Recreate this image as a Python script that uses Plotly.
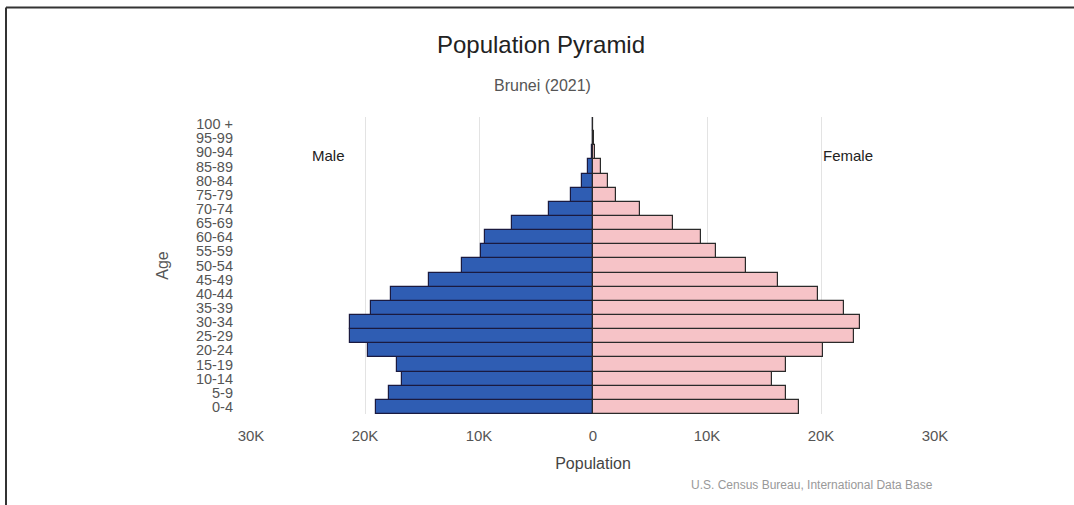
import plotly.graph_objects as go

age_groups = ["0-4", "5-9", "10-14", "15-19", "20-24", "25-29", "30-34", "35-39",
              "40-44", "45-49", "50-54", "55-59", "60-64", "65-69", "70-74",
              "75-79", "80-84", "85-89", "90-94", "95-99", "100 +"]
male = [19000, 17900, 16750, 17200, 19700, 21300, 21300, 19500, 17700, 14400,
        11500, 9800, 9500, 7100, 3900, 1950, 1000, 420, 120, 30, 5]
female = [18100, 16900, 15700, 16900, 20200, 22900, 23400, 22000, 19700, 16200,
          13400, 10800, 9500, 7000, 4150, 2000, 1300, 700, 200, 50, 10]
tick_vals = [-30000, -20000, -10000, 0, 10000, 20000, 30000]
tick_text = ["30K", "20K", "10K", "0", "10K", "20K", "30K"]

FONT = "Liberation Sans, Arial, sans-serif"

fig = go.Figure()
fig.add_trace(go.Bar(
    y=age_groups, x=[-v for v in male], orientation="h", name="Male",
    marker=dict(color="#2f5db3", line=dict(color="#1a1a40", width=1.2)),
    hoverinfo="skip",
))
fig.add_trace(go.Bar(
    y=age_groups, x=female, orientation="h", name="Female",
    marker=dict(color="#f6c3c7", line=dict(color="#2a2a2a", width=1.2)),
    hoverinfo="skip",
))

L, R, T, B = 251, 139, 117, 91
W, H = 1074, 505
pw, ph = W - L - R, H - T - B

def px(x):
    return (x - L) / pw

def py(y):
    return (H - B - y) / ph

fig.update_layout(
    width=W, height=H,
    margin=dict(l=L, r=R, t=T, b=B, pad=0),
    paper_bgcolor="white", plot_bgcolor="white",
    barmode="relative", bargap=0,
    showlegend=False,
    font=dict(family=FONT, color="#555555"),
    title=dict(text="Population Pyramid", x=541 / W, xanchor="center",
               y=1 - 45 / H, yanchor="middle", xref="container",
               font=dict(size=24, color="#222222", family=FONT)),
    xaxis=dict(
        range=[-30000, 30000], tickvals=tick_vals, ticktext=tick_text,
        showgrid=True, gridcolor="#e3e3e3", gridwidth=1, zeroline=False,
        tickfont=dict(size=15, color="#555555"), ticklabelstandoff=11,
        title=dict(text="Population", font=dict(size=16, color="#444444"), standoff=14),
        fixedrange=True,
    ),
    yaxis=dict(
        showgrid=False, zeroline=False,
        tickmode="array", tickvals=age_groups, ticktext=age_groups,
        tickfont=dict(size=14.5, color="#555555"), ticklabelstandoff=17,
        title=dict(text="Age", font=dict(size=16, color="#555555"), standoff=23),
        fixedrange=True,
    ),
    annotations=[
        dict(text="Brunei (2021)", xref="paper", yref="paper", x=px(542), y=py(86),
             xanchor="center", yanchor="middle", showarrow=False,
             font=dict(size=16, color="#555555", family=FONT)),
        dict(text="Male", xref="x", yref="paper", x=-23200, y=py(155),
             xanchor="center", yanchor="middle", showarrow=False,
             font=dict(size=15, color="#222222", family=FONT)),
        dict(text="Female", xref="x", yref="paper", x=22400, y=py(155),
             xanchor="center", yanchor="middle", showarrow=False,
             font=dict(size=15, color="#222222", family=FONT)),
        dict(text="U.S. Census Bureau, International Data Base", xref="paper",
             yref="paper", x=px(935), y=py(485), xanchor="right", yanchor="middle",
             showarrow=False, font=dict(size=12, color="#999999", family=FONT)),
    ],
    shapes=[
        dict(type="line", xref="paper", yref="paper", x0=px(6), x1=px(1074),
             y0=py(7.5), y1=py(7.5), line=dict(color="#333333", width=2)),
        dict(type="line", xref="paper", yref="paper", x0=px(6), x1=px(6),
             y0=py(7.5), y1=py(505), line=dict(color="#333333", width=2)),
    ],
)

fig.write_html("out.html", config={"displayModeBar": False},
               post_script="document.body.style.margin='0';document.body.style.overflow='hidden';")
